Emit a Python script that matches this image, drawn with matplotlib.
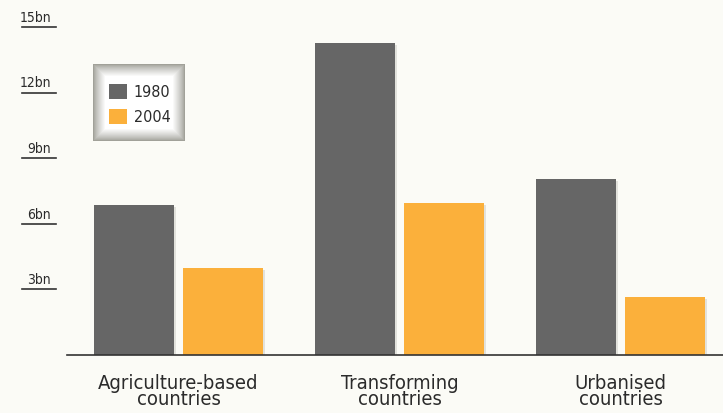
import matplotlib
matplotlib.use("Agg")
import matplotlib.pyplot as plt
import numpy as np
from matplotlib.patches import Rectangle
import matplotlib.patheffects as pe

categories = ["Agriculture-based\ncountries", "Transforming\ncountries", "Urbanised\ncountries"]
series_names = ["1980", "2004"]
values_1980 = [6.85, 14.25, 8.05]
values_2004 = [3.97, 6.95, 2.65]
tick_values = [3, 6, 9, 12, 15]
tick_labels = ["3bn", "6bn", "9bn", "12bn", "15bn"]

colors = ["#666666", "#fbb03b"]
bg = "#fbfbf6"
txt = "#2b2b2b"

plt.rcParams['font.family'] = ['DejaVu Sans']
plt.rcParams['font.stretch'] = 'condensed'

W, H = 723, 413
fig = plt.figure(figsize=(W / 100, H / 100), dpi=100, facecolor=bg)
ax = fig.add_axes([67 / W, (H - 355) / H, (W - 67) / W, (355 - 27) / H])
ax.set_facecolor(bg)

x = np.arange(len(categories))
bw = 0.362
off = 0.2014
shadow = [pe.SimplePatchShadow(offset=(1.5, -1.5), shadow_rgbFace="#999990", alpha=0.25), pe.Normal()]
b1 = ax.bar(x - off, values_1980, bw, color=colors[0], label=series_names[0], zorder=3)
b2 = ax.bar(x + off, values_2004, bw, color=colors[1], label=series_names[1], zorder=3)
for b in list(b1) + list(b2):
    b.set_path_effects(shadow)

ax.set_xlim(-0.5045, 2.464)
ax.set_ylim(0, 15)
for s in ax.spines.values():
    s.set_visible(False)
ax.axhline(0, color="#333333", lw=1.2, zorder=4, clip_on=False)
ax.set_yticks([])
ax.set_xticks(x)
ax.set_xticklabels(categories, fontsize=14.5, color=txt, linespacing=0.8,
                   fontstretch='condensed')
ax.tick_params(axis="x", length=0, pad=14)

trans = matplotlib.transforms.blended_transform_factory(ax.transAxes, ax.transData)
for v, lab in zip(tick_values, tick_labels):
    ax.plot([(22 - 67) / 656, (56 - 67) / 656], [v, v], color="#333333", lw=1.2,
            transform=trans, clip_on=False)
    ax.text((51 - 67) / 656, v + 0.1, lab, transform=trans, ha="right", va="bottom",
            fontsize=10, color=txt, fontstretch='condensed')

# legend box with soft gray border
x0, y0, x1, y1 = 93, 64, 185, 141
n = 13
for i in range(n):
    t = (i / (n - 1)) ** 0.8
    c = np.array([0.63, 0.63, 0.60]) * (1 - t) + np.array([1.0, 1.0, 1.0]) * t
    ax.add_patch(Rectangle(((x0 + i) / W, (H - y1 + i) / H),
                           (x1 - x0 - 2 * i) / W, (y1 - y0 - 2 * i) / H,
                           transform=fig.transFigure, facecolor=c, edgecolor="none",
                           zorder=6, clip_on=False))
leg = ax.legend(handles=[b1, b2], labels=series_names, loc="upper left",
                bbox_to_anchor=(101 / W, (H - 76) / H), bbox_transform=fig.transFigure,
                frameon=False, handlelength=1.1, handleheight=1.1,
                handletextpad=0.45, labelspacing=0.55, borderpad=0, labelcolor=txt,
                prop={'size': 11.5, 'stretch': 'condensed'})
leg.set_zorder(10)
for h in leg.legend_handles:
    h.set_path_effects([])

fig.savefig("out.png", dpi=100, facecolor=bg)
